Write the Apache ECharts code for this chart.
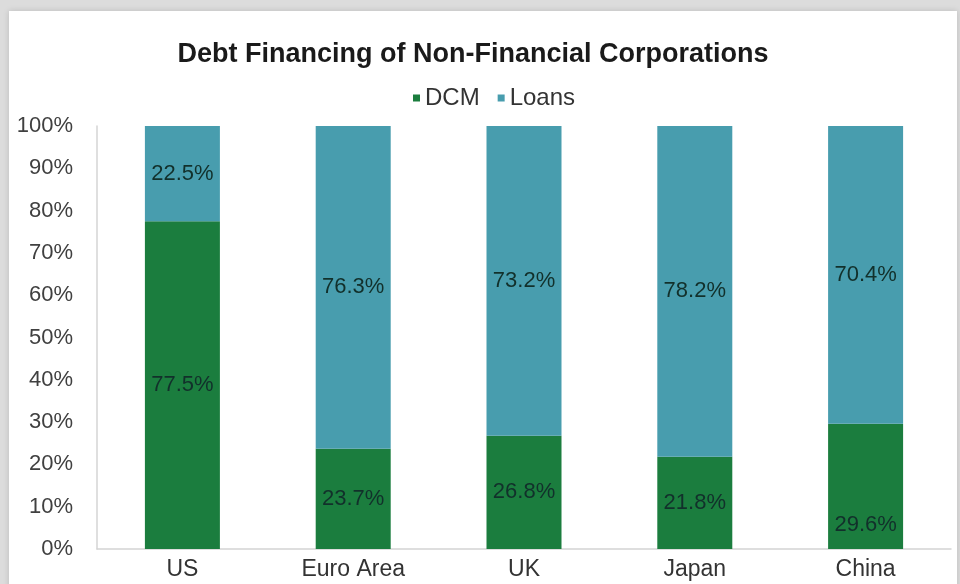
<!DOCTYPE html>
<html>
<head>
<meta charset="utf-8">
<script src="https://cdn.jsdelivr.net/npm/echarts@6/dist/echarts.min.js"></script>
<style>
html,body{margin:0;padding:0;background:#dcdcdc;}
#c{width:960px;height:584px;}
</style>
</head>
<body>
<div id="c"></div>
<script>
const categories = ['US', 'Euro Area', 'UK', 'Japan', 'China'];
const dcm = [77.5, 23.7, 26.8, 21.8, 29.6];
const loans = [22.5, 76.3, 73.2, 78.2, 70.4];
const yTicks = [0, 10, 20, 30, 40, 50, 60, 70, 80, 90, 100];

const FONT = 'Liberation Sans, Arial, sans-serif';
const chart = echarts.init(document.getElementById('c'));
const labelStyle = {
  show: true,
  position: 'inside',
  color: '#12302b',
  fontFamily: FONT,
  fontSize: 22,
  formatter: p => p.value.toFixed(1) + '%'
};
chart.setOption({
  backgroundColor: '#dcdcdc',
  animation: false,
  graphic: [{
    type: 'rect',
    shape: { x: 9, y: 11, width: 948, height: 580 },
    style: { fill: '#ffffff', shadowBlur: 6, shadowColor: 'rgba(0,0,0,0.15)' },
    z: -10
  }],
  title: {
    text: 'Debt Financing of Non-Financial Corporations',
    left: 468, top: 36, textAlign: 'center',
    textStyle: { fontFamily: FONT, fontWeight: 'bold', fontSize: 27, color: '#1a1a1a' }
  },
  legend: {
    data: ['DCM', 'Loans'],
    left: 408, top: 81,
    itemWidth: 7, itemHeight: 7, itemGap: 18,
    icon: 'rect',
    textStyle: { fontFamily: FONT, fontSize: 24, color: '#333' }
  },
  grid: { left: 97, right: 9, top: 126, bottom: 35 },
  xAxis: {
    type: 'category',
    data: categories,
    axisLine: { lineStyle: { color: '#d4d4d4', width: 1.5 } },
    axisTick: { show: false },
    axisLabel: { color: '#333', fontSize: 23, fontFamily: FONT, margin: 9 }
  },
  yAxis: {
    type: 'value',
    min: yTicks[0], max: yTicks[yTicks.length - 1], interval: 10,
    axisLine: { show: true, lineStyle: { color: '#d4d4d4', width: 1.5 } },
    axisTick: { show: false },
    splitLine: { show: false },
    axisLabel: { color: '#404040', fontSize: 22, fontFamily: FONT, margin: 24, formatter: v => v + '%' }
  },
  series: [
    {
      name: 'DCM', type: 'bar', stack: 'total', barWidth: 75,
      itemStyle: { color: '#1b7d3e' },
      label: labelStyle,
      data: dcm.map((v, i) => categories[i] === 'China' ? { value: v, label: { offset: [0, 39] } } : v)
    },
    {
      name: 'Loans', type: 'bar', stack: 'total', barWidth: 75,
      itemStyle: { color: '#489dae' },
      label: labelStyle,
      data: loans
    }
  ]
});
</script>
</body>
</html>
